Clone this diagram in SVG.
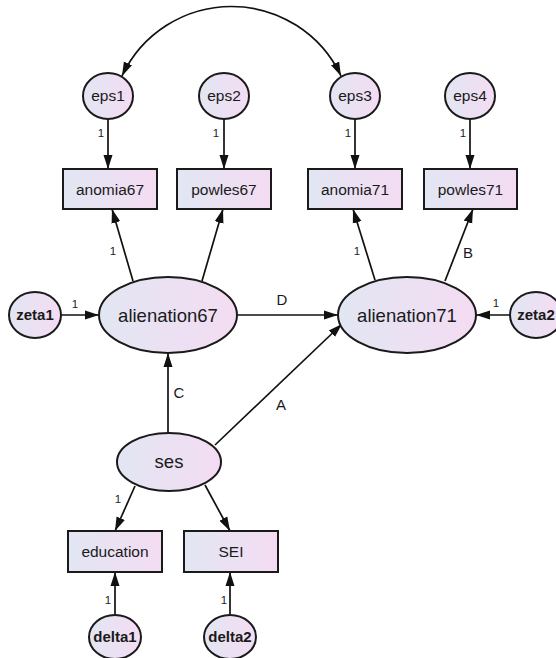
<svg xmlns="http://www.w3.org/2000/svg" width="556" height="658" viewBox="0 0 556 658">
<defs>
<linearGradient id="g" x1="0" y1="0" x2="1" y2="0">
<stop offset="0" stop-color="#e2e6f3"/>
<stop offset="1" stop-color="#f4dcf3"/>
</linearGradient>
<marker id="ah" markerUnits="userSpaceOnUse" markerWidth="15" markerHeight="11" refX="14" refY="5.5" orient="auto-start-reverse">
<path d="M0,1 L14,5.5 L0,10 z" fill="#111"/>
</marker>
</defs>
<style>
.n{fill:url(#g);stroke:#1a1a1a;stroke-width:2}
.t{font-family:"Liberation Sans",Arial,sans-serif;fill:#1a1a1a;text-anchor:middle}
.s{font-size:15.5px}
.b{font-size:15px;font-weight:bold}
.L{font-size:18.5px}
.e{fill:none;stroke:#111;stroke-width:1.7;marker-end:url(#ah)}
.l{font-family:"Liberation Sans",Arial,sans-serif;fill:#222;text-anchor:middle;font-size:11.5px}
.c{font-family:"Liberation Sans",Arial,sans-serif;fill:#1a1a1a;text-anchor:middle;font-size:15px}
</style>
<rect width="556" height="658" fill="#fff"/>
<g id="connectors">
<path class="e" style="marker-start:url(#ah)" d="M122 76 A121 121 0 0 1 341 76"/>
<path class="e" d="M108 118 L108 169"/>
<path class="e" d="M224 118 L224 169"/>
<path class="e" d="M355 118 L355 169"/>
<path class="e" d="M470 118 L470 169"/>
<path class="e" d="M133 281 L112 209"/>
<path class="e" d="M202 281 L223 209"/>
<path class="e" d="M375 280 L353 209"/>
<path class="e" d="M445 281 L473 209"/>
<path class="e" d="M61 315 L99 315"/>
<path class="e" d="M510 315 L476 315"/>
<path class="e" d="M237 315 L338 315"/>
<path class="e" d="M168 433 L168 353"/>
<path class="e" d="M215 445 L342 324"/>
<path class="e" d="M135 486 L115 531"/>
<path class="e" d="M205 485 L230 531"/>
<path class="e" d="M115 615 L115 572"/>
<path class="e" d="M230 615 L230 572"/>
<text class="l" x="101" y="137">1</text>
<text class="l" x="216" y="137">1</text>
<text class="l" x="348" y="137">1</text>
<text class="l" x="463" y="137">1</text>
<text class="l" x="113" y="255">1</text>
<text class="l" x="357" y="255">1</text>
<text class="c" x="468" y="258">B</text>
<text class="l" x="75" y="308">1</text>
<text class="l" x="496" y="307">1</text>
<text class="c" x="282" y="305">D</text>
<text class="c" x="179" y="398">C</text>
<text class="c" x="281" y="410">A</text>
<text class="l" x="118" y="503">1</text>
<text class="l" x="108" y="604">1</text>
<text class="l" x="224" y="604">1</text>
</g>
<g id="eps1"><ellipse class="n" cx="108" cy="96" rx="25" ry="23"/><text class="t s" x="108" y="101">eps1</text></g>
<g id="eps2"><ellipse class="n" cx="224" cy="96" rx="25" ry="23"/><text class="t s" x="224" y="101">eps2</text></g>
<g id="eps3"><ellipse class="n" cx="355" cy="96" rx="25" ry="23"/><text class="t s" x="355" y="101">eps3</text></g>
<g id="eps4"><ellipse class="n" cx="470" cy="96" rx="25" ry="23"/><text class="t s" x="470" y="101">eps4</text></g>
<g id="anomia67"><rect class="n" x="63" y="169" width="94" height="40"/><text class="t s" x="110" y="194.5">anomia67</text></g>
<g id="powles67"><rect class="n" x="177" y="169" width="94" height="40"/><text class="t s" x="224" y="194.5">powles67</text></g>
<g id="anomia71"><rect class="n" x="308" y="169" width="94" height="40"/><text class="t s" x="355" y="194.5">anomia71</text></g>
<g id="powles71"><rect class="n" x="424" y="169" width="93" height="40"/><text class="t s" x="470.5" y="194.5">powles71</text></g>
<g id="zeta1"><ellipse class="n" cx="35" cy="315" rx="26" ry="23"/><text class="t b" x="35" y="320">zeta1</text></g>
<g id="zeta2"><ellipse class="n" cx="536" cy="315" rx="26" ry="23"/><text class="t b" x="536" y="320">zeta2</text></g>
<g id="alienation67"><ellipse class="n" cx="168" cy="315" rx="69" ry="38"/><text class="t L" x="168" y="321.5">alienation67</text></g>
<g id="alienation71"><ellipse class="n" cx="407" cy="315" rx="69" ry="38"/><text class="t L" x="407" y="321.5">alienation71</text></g>
<g id="ses"><ellipse class="n" cx="169" cy="462" rx="52" ry="29"/><text class="t L" x="169" y="468">ses</text></g>
<g id="education"><rect class="n" x="68" y="531" width="94" height="41"/><text class="t s" x="115" y="557">education</text></g>
<g id="SEI"><rect class="n" x="184" y="531" width="94" height="41"/><text class="t s" x="231" y="557">SEI</text></g>
<g id="delta1"><ellipse class="n" cx="115" cy="637" rx="26" ry="22"/><text class="t b" x="115" y="642">delta1</text></g>
<g id="delta2"><ellipse class="n" cx="230" cy="637" rx="26" ry="22"/><text class="t b" x="230" y="642">delta2</text></g>
</svg>
